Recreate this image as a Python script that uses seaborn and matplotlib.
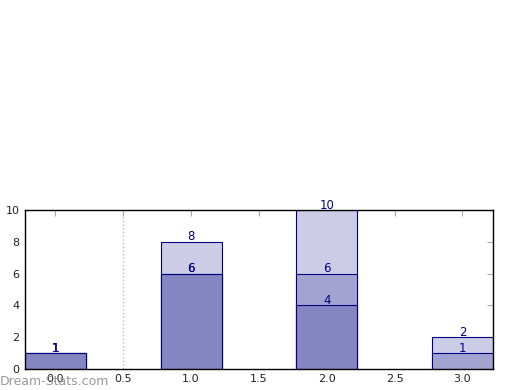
import matplotlib
matplotlib.use('Agg')
import matplotlib.pyplot as plt
import numpy as np
import pandas as pd
import seaborn as sns

# data
positions = [0, 1, 2, 3]
series_bottom = [1, 6, 4, 0]
series_middle = [0, 0, 2, 1]
series_top = [0, 2, 4, 1]

colors = ['#8585c2', '#a3a3d1', '#ccccE6']
edge = '#000080'

sns.set_style('white')
plt.rcParams['font.family'] = ['DejaVu Sans']

fig = plt.figure(figsize=(5.2, 3.9), dpi=100)
ax = fig.add_axes([0.048, 0.054, 0.9, 0.4075])

cum1 = np.array(series_bottom)
cum2 = cum1 + np.array(series_middle)
cum3 = cum2 + np.array(series_top)

# draw tallest first so shorter stacks sit on top of it
for heights, col in [(cum3, colors[2]), (cum2, colors[1]), (cum1, colors[0])]:
    df = pd.DataFrame({'x': positions, 'y': heights})
    df = df[df['y'] > 0]
    sns.barplot(data=df, x='x', y='y', native_scale=True, width=0.45,
                color=col, saturation=1, edgecolor=edge, linewidth=0.8,
                errorbar=None, ax=ax)

# cumulative labels at the top of each segment
for cum in (cum1, cum2, cum3):
    for xp, h in zip(positions, cum):
        if h > 0:
            ax.text(xp, h - 0.1, str(h), ha='center', va='bottom',
                    color=edge, fontsize=8.5)

ax.axvline(0.5, color='#bbbbbb', ls=':', lw=1, zorder=0)

ax.set_xlim(-0.225, 3.225)
ax.set_ylim(0, 10)
ax.set_xticks(np.arange(0, 3.01, 0.5))
ax.set_yticks(np.arange(0, 10.1, 2))
ax.set_xticklabels([f'{v:.1f}' for v in np.arange(0, 3.01, 0.5)])
ax.set_xlabel('')
ax.set_ylabel('')
ax.tick_params(direction='in', length=4, color='#aaaaaa', labelsize=8,
               labelcolor='#222222', top=True, right=True, pad=4)
for sp in ax.spines.values():
    sp.set_color('black')
    sp.set_linewidth(1)

fig.text(0.0, 0.012, 'Dream-Stats.com', color='#999999', fontsize=9)

fig.savefig('out.png', dpi=100)
